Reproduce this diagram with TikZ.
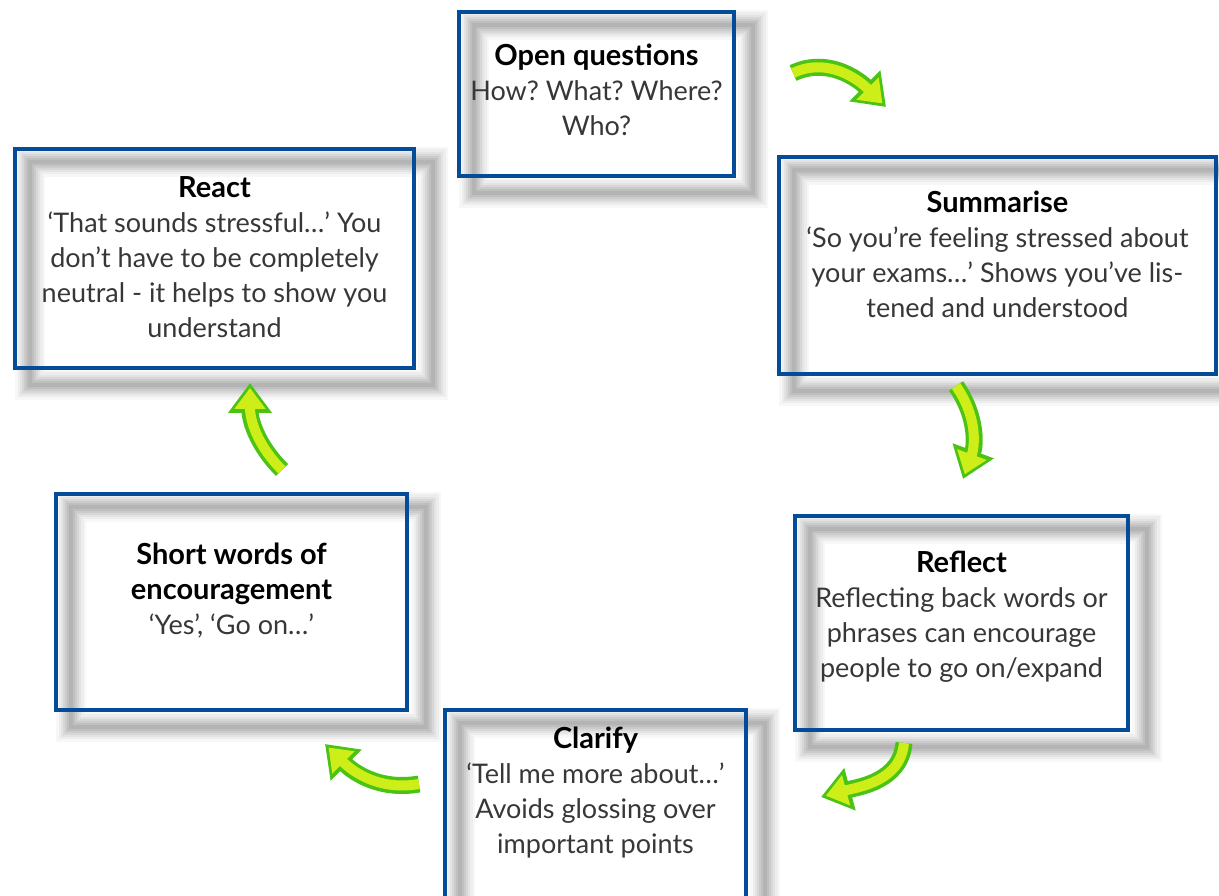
\documentclass[tikz,border=0pt]{standalone}
\usepackage{fontspec}
\setmainfont{Lato}
\frenchspacing
\usetikzlibrary{positioning,arrows.meta}
\definecolor{frameblue}{RGB}{4,76,152}
\definecolor{textgrey}{RGB}{55,55,55}
\definecolor{arrowgreen}{RGB}{75,195,20}
\definecolor{arrowyellow}{RGB}{205,238,25}
\pgfdeclarelayer{bg}
\pgfsetlayers{bg,main}
\tikzset{
  frame/.style={draw=frameblue,line width=4pt,inner sep=0pt},
  steptext/.style={align=center,inner sep=0pt,text=textgrey,
    font=\fontsize{27}{35}\selectfont},
}
\newcommand\steptitle[1]{{\color{black}\fontsize{29}{35}\selectfont\bfseries #1}}
% blurred grey shadow of a frame
\newcommand\frameshadow[1]{%
  \begin{pgfonlayer}{bg}
  \foreach \w/\o in {30/0.03,25/0.04,20/0.045,16/0.05,12/0.055,8/0.06,4/0.06}
    \draw[line width=\w pt,black,opacity=\o]
      ([shift={(17,-15)}]#1.north west) rectangle ([shift={(17,-15)}]#1.south east);
  \end{pgfonlayer}}
% green curved arrow
\newcommand\cyclearrow[4]{%
  \draw[arrowgreen,line width=17pt,-{Triangle[width=42pt,length=30pt]}]
    (#1) to[out=#3,in=#4] (#2);
  \draw[arrowyellow,line width=10pt,shorten >=5pt,-{Triangle[width=30pt,length=21pt]}]
    (#1) to[out=#3,in=#4] (#2);}
\begin{document}
\begin{tikzpicture}[x=1pt,y=1pt]
\useasboundingbox (0,0) rectangle (1219,896);
\clip (0,0) rectangle (1219,896);

\node[frame,minimum width=275,minimum height=164] (oq) at (596.5,802) {};
\node[frame,minimum width=437,minimum height=217] (sum) at (997.5,630.5) {};
\node[frame,minimum width=333,minimum height=214] (refl) at (961.5,273) {};
\node[frame,minimum width=301,minimum height=220] (clar) at (595.5,76) {};
\node[frame,minimum width=351,minimum height=216] (short) at (231.5,294) {};
\node[frame,minimum width=399,minimum height=219] (react) at (214.5,637.5) {};

\foreach \b in {oq,sum,refl,clar,short,react}{\frameshadow{\b}}

\node[steptext,below=34pt of oq.north] (oqtext)
  {\steptitle{Open questions}\\How? What? Where?\\Who?};
\node[steptext,below=36pt of sum.north] (sumtext)
  {\steptitle{Summarise}\\‘So you’re feeling stressed about\\your exams…’ Shows you’ve lis-\\tened and understood};
\node[steptext,below=37pt of refl.north] (refltext)
  {\steptitle{Reflect}\\Reflecting back words or\\phrases can encourage\\people to go on/expand};
\node[steptext,below=19pt of clar.north] (clartext)
  {\steptitle{Clarify}\\‘Tell me more about…’\\Avoids glossing over\\important points};
\node[steptext,below=51pt of short.north] (shorttext)
  {\steptitle{Short words of}\\\steptitle{encouragement}\\‘Yes’, ‘Go on…’};
\node[steptext,below=29pt of react.north] (reacttext)
  {\steptitle{React}\\‘That sounds stressful…’ You\\don’t have to be completely\\neutral - it helps to show you\\understand};

% arrows between the steps
\coordinate (a1s) at (793,823); \coordinate (a1e) at (886,789);
\coordinate (a2s) at (956,510); \coordinate (a2e) at (963,417);
\coordinate (a3s) at (904,153); \coordinate (a3e) at (821,99);
\coordinate (a4s) at (419,112); \coordinate (a4e) at (325,152);
\coordinate (a5s) at (282,426); \coordinate (a5e) at (250,513);
\cyclearrow{a1s}{a1e}{25}{135}
\cyclearrow{a2s}{a2e}{-55}{70}
\cyclearrow{a3s}{a3e}{-95}{15}
\cyclearrow{a4s}{a4e}{190}{-45}
\cyclearrow{a5s}{a5e}{135}{-90}
\end{tikzpicture}
\end{document}
